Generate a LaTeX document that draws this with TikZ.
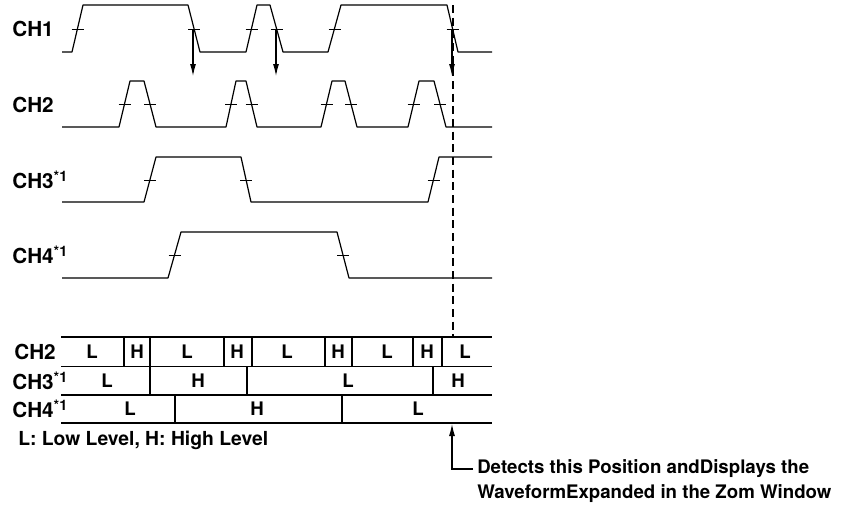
\documentclass[tikz,border=0pt]{standalone}
\usepackage{fontspec}
\setmainfont{TeX Gyre Heros}
\usetikzlibrary{arrows.meta}

\begin{document}
\begin{tikzpicture}[x=0.75pt,y=-0.75pt,>={Latex[length=9pt,width=4.5pt]},
  wave/.style={line width=0.9pt,line join=round},
  tic/.style={line width=0.7pt},
  grid/.style={line width=0.8pt},
  lbl/.style={font=\bfseries\fontsize{15.5}{17}\selectfont,anchor=west,inner sep=0pt},
  cell/.style={font=\bfseries\fontsize{14}{16}\selectfont,inner sep=0pt}]
  \useasboundingbox (0,0) rectangle (860,512);
  % channel names
  \node[lbl] (ch1) at (12,29) {CH1};
  \node[lbl] (ch2) at (12,105) {CH2};
  \node[lbl] (ch3) at (12,180) {CH3\textsuperscript{*1}};
  \node[lbl] (ch4) at (12,255) {CH4\textsuperscript{*1}};
  % waveforms
  \draw[wave] (62,52) -- (72,52) -- (83,5) -- (188,5) -- (200,52) -- (246,52) -- (257,5)
    -- (270,5) -- (283,52) -- (328,52) -- (341,5) -- (447,5) -- (458,52) -- (492,52);
  \draw[wave] (62,127) -- (119,127) -- (130,81) -- (144,81) -- (156,127) -- (226,127) -- (236,81)
    -- (246,81) -- (257,127) -- (321,127) -- (332,81) -- (345,81) -- (357,127) -- (408,127)
    -- (419,81) -- (434,81) -- (446,127) -- (492,127);
  \draw[wave] (62,202) -- (144,202) -- (156,157) -- (241,157) -- (251,202) -- (428,202)
    -- (439,157) -- (492,157);
  \draw[wave] (62,278) -- (168,278) -- (181,232) -- (337,232) -- (349,278) -- (492,278);
  % threshold marks
  \foreach \x in {77.5,194,251.5,276.5,334.5,452.5} \draw[tic] (\x-6,29) -- (\x+6,29);
  \foreach \x in {124.5,150,231,251.5,326.5,351,413.5,440} \draw[tic] (\x-6,104) -- (\x+6,104);
  \foreach \x in {150,246,433.5} \draw[tic] (\x-6,180) -- (\x+6,180);
  \foreach \x in {174.5,343} \draw[tic] (\x-6,255) -- (\x+6,255);
  % trigger arrows on the falling edges of CH1
  \coordinate (f1) at (193,29); \coordinate (f1e) at (193,76);
  \coordinate (f2) at (276,29); \coordinate (f2e) at (276,76);
  \coordinate (f3) at (452,29); \coordinate (f3e) at (452,76);
  \draw[->,line width=0.8pt] (f1) -- (f1e);
  \draw[->,line width=0.8pt] (f2) -- (f2e);
  \draw[->,line width=0.8pt] (f3) -- (f3e);
  \draw[line width=0.8pt,dash pattern=on 6pt off 3.5pt] (453,5) -- (453,337);
  % level table
  \node[lbl] (t2) at (14,352) {CH2};
  \node[lbl] (t3) at (12,381) {CH3\textsuperscript{*1}};
  \node[lbl] (t4) at (12,409) {CH4\textsuperscript{*1}};
  \foreach \y in {337,366.7,395,423} \draw[grid] (61,\y) -- (492,\y);
  \foreach \x in {124,150,224,252,325,352,413,442} \draw[grid] (\x,337) -- (\x,366.7);
  \foreach \x in {150,247,433} \draw[grid] (\x,366.7) -- (\x,395);
  \foreach \x in {175,342} \draw[grid] (\x,395) -- (\x,423);
  \foreach \x/\t in {92/L,137/H,187/L,237/H,287/L,338/H,387/L,427/H,465/L}
    \node[cell] (a\x) at (\x,352) {\t};
  \foreach \x/\t in {107/L,198/H,348/L,458/H}
    \node[cell] (b\x) at (\x,381) {\t};
  \foreach \x/\t in {130/L,257/H,418/L}
    \node[cell] (c\x) at (\x,409) {\t};
  % legend and note
  \node[lbl,font=\bfseries\fontsize{14.5}{16}\selectfont] (legend) at (18,440) {L: Low Level, H: High Level};
  \node[lbl,anchor=north west,align=left,font=\bfseries\fontsize{14}{19}\selectfont]
    (note) at (477,459) {Detects this Position andDisplays the\\WaveformExpanded in the Zom Window};
  \coordinate (tip) at (452,424);
  \coordinate (bend) at (452,469);
  \draw[->,line width=0.8pt] ([xshift=-3pt]note.west |- bend) -- (bend) -- (tip);
\end{tikzpicture}
\end{document}
